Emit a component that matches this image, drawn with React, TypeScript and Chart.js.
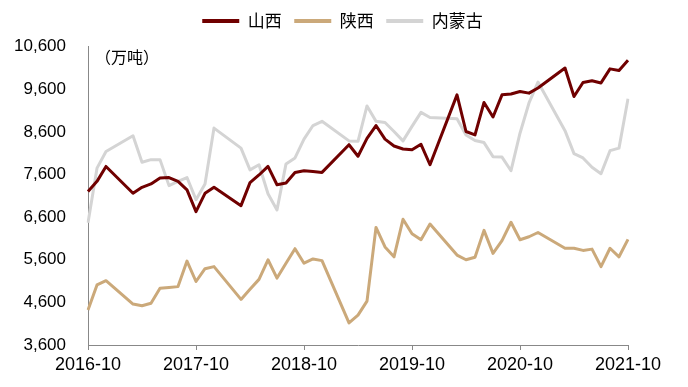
import React, { useEffect, useRef } from "react";
import { Chart, registerables } from "chart.js";

Chart.register(...registerables);

const FONT = "'Liberation Sans', Arial, 'Noto Sans CJK SC', sans-serif";
const CJK = "'Noto Sans CJK SC', 'Liberation Sans', sans-serif";

// Monthly categories 2016-10 .. 2021-10
const categories: string[] = [];
for (let k = 0; k <= 60; k++) {
  const m = 9 + k; // zero-based month from Jan 2016
  const y = 2016 + Math.floor(m / 12);
  const mm = (m % 12) + 1;
  categories.push(`${y}-${mm < 10 ? "0" + mm : mm}`);
}

const seriesNames = ["山西", "陕西", "内蒙古"];

// null = month not reported (Jan/Feb)
const shanxi: (number | null)[] = [
  7200, 7440, 7790, null, null, 7160, 7300, 7380, 7520, 7530, 7440, 7240,
  6730, 7160, 7300, null, null, 6870, 7410, 7590, 7790, 7360, 7400, 7650,
  7690, 7670, 7650, null, null, 8300, 8030, 8450, 8750, 8430, 8270, 8200,
  8180, 8310, 7830, null, null, 9470, 8610, 8530, 9290, 8950, 9470, 9490,
  9550, 9510, 9630, null, null, 10100, 9430, 9760, 9800, 9750, 10080, 10040,
  10280,
];

const shaanxi: (number | null)[] = [
  4420, 5010, 5110, null, null, 4560, 4520, 4580, 4930, 4950, 4970, 5570,
  5090, 5390, 5440, null, null, 4670, 4910, 5140, 5600, 5170, 5520, 5860,
  5520, 5620, 5580, null, null, 4120, 4300, 4630, 6360, 5900, 5670, 6550,
  6210, 6070, 6440, null, null, 5710, 5600, 5660, 6290, 5750, 6050, 6480,
  6070, 6140, 6240, null, null, 5870, 5870, 5820, 5850, 5440, 5870, 5670,
  6080,
];

const neimenggu: (number | null)[] = [
  6470, 7750, 8140, null, null, 8510, 7890, 7950, 7950, 7340, 7440, 7530,
  7010, 7380, 8690, null, null, 8220, 7710, 7830, 7150, 6770, 7850, 7990,
  8430, 8750, 8850, null, null, 8390, 8380, 9210, 8850, 8820, 8610, 8390,
  8730, 9060, 8940, null, null, 8910, 8530, 8400, 8350, 8020, 8010, 7690,
  8570, 9280, 9770, null, null, 8630, 8090, 7990, 7770, 7620, 8160, 8220,
  9380,
];

const yMin = 3600;
const yMax = 10600;
const yStep = 1000;
const unitText = "（万吨）";

const colors = ["#700000", "#CBA97A", "#D4D4D4"];

const unitPlugin = {
  id: "unitLabel",
  afterDraw(chart: any) {
    const { ctx, chartArea } = chart;
    ctx.save();
    ctx.font = `16px ${CJK}`;
    ctx.fillStyle = "#000";
    ctx.textBaseline = "middle";
    ctx.textAlign = "left";
    ctx.fillText(unitText, chartArea.left + 7, chartArea.top + 10);
    ctx.restore();
  },
};

// Extra gap below the legend and re-centre it on the page width
const legendTweak = {
  id: "legendTweak",
  beforeUpdate(chart: any) {
    const lg = chart.legend;
    if (lg && !lg.__patched) {
      const orig = lg.fit.bind(lg);
      lg.fit = function () {
        orig();
        this.height += 7.2;
      };
      lg.__patched = true;
    }
  },
  afterUpdate(chart: any) {
    const lg = chart.legend;
    if (lg) {
      lg.left += 28.5;
      lg.right += 28.5;
      lg.adjustHitBoxes();
    }
  },
};

export default function App() {
  const ref = useRef<HTMLCanvasElement | null>(null);

  useEffect(() => {
    if (!ref.current) return;
    const data = [shanxi, shaanxi, neimenggu];
    const chart = new Chart(ref.current, {
      type: "line",
      data: {
        labels: categories,
        datasets: data.map((d, i) => ({
          label: seriesNames[i],
          data: d,
          borderColor: colors[i],
          backgroundColor: colors[i],
          borderWidth: 3,
          pointRadius: 0,
          tension: 0,
          fill: false,
          spanGaps: true,
          borderJoinStyle: "round" as const,
        })),
      },
      options: {
        responsive: false,
        animation: false,
        layout: { padding: { top: 0, right: 60, left: 0, bottom: 0 } },
        plugins: {
          tooltip: { enabled: false },
          legend: {
            position: "top",
            labels: {
              boxWidth: 37,
              boxHeight: 4,
              padding: 12.5,
              color: "#000",
              font: { size: 17, family: CJK },
              generateLabels: (c: any) =>
                (Chart.defaults.plugins.legend.labels as any)
                  .generateLabels(c)
                  .map((l: any) => ({ ...l, lineWidth: 0, fillStyle: l.strokeStyle })),
            },
          },
        },
        scales: {
          x: {
            type: "category",
            offset: false,
            grid: {
              display: true,
              drawOnChartArea: false,
              drawTicks: true,
              tickLength: 5,
              color: "#888",
            },
            border: { display: true, color: "#888", width: 1 },
            ticks: {
              autoSkip: false,
              maxRotation: 0,
              minRotation: 0,
              padding: 4,
              color: "#000",
              font: { size: 18, family: FONT },
              callback: function (_v: any, index: number) {
                return index % 12 === 0 ? categories[index] : null;
              },
            },
            afterFit: (s: any) => {
              s.height = 42;
            },
          },
          y: {
            min: yMin,
            max: yMax,
            grid: { display: false, drawTicks: false },
            border: { display: true, color: "#888", width: 1 },
            ticks: {
              stepSize: yStep,
              padding: 22,
              color: "#000",
              font: { size: 17, family: FONT },
              callback: (v: any) => Number(v).toLocaleString("en-US"),
            },
            afterFit: (s: any) => {
              s.width = 88;
            },
          },
        },
      },
      plugins: [unitPlugin, legendTweak],
    });
    return () => chart.destroy();
  }, []);

  return (
    <div style={{ position: "fixed", left: 0, top: 0, width: 688, height: 387, background: "#fff" }}>
      <canvas ref={ref} width={688} height={387} style={{ width: 688, height: 387, display: "block" }} />
    </div>
  );
}
